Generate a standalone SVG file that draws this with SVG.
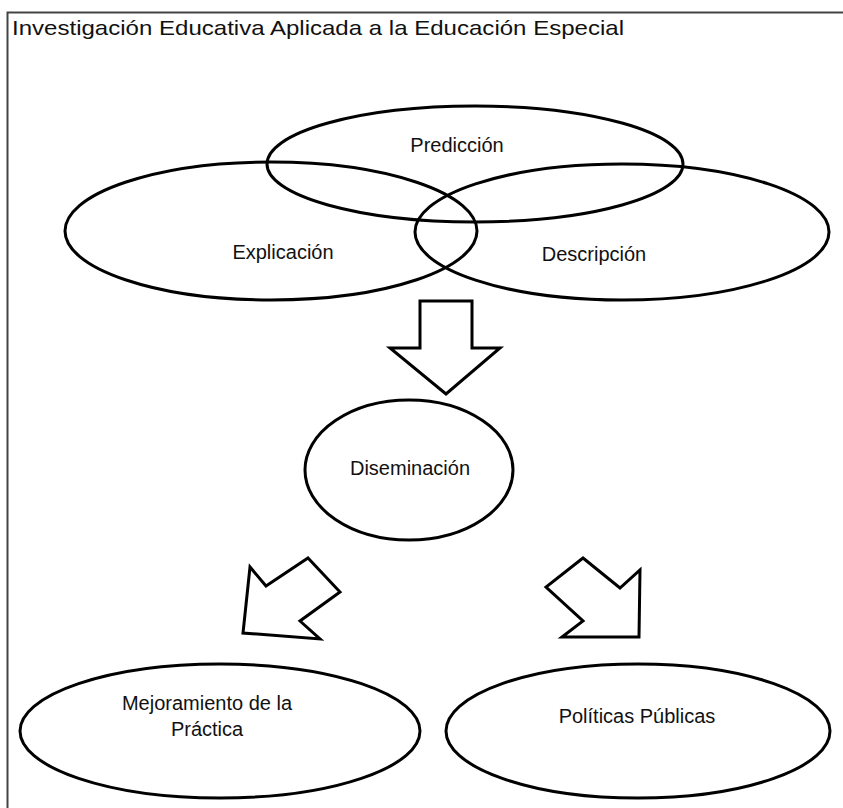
<svg xmlns="http://www.w3.org/2000/svg" width="843" height="808" viewBox="0 0 843 808">
<style>
.shape{fill:none;stroke:#000;stroke-width:3}
.arrow{fill:#fff;stroke:#000;stroke-width:3;stroke-linejoin:miter}
.lbl{font-family:"Liberation Sans",Arial,sans-serif;font-size:20px;fill:#111;text-anchor:middle}
.title{font-family:"Liberation Sans",Arial,sans-serif;font-size:21px;fill:#111}
</style>
<rect x="0" y="0" width="843" height="808" fill="#fff"/>
<g id="frame">
<path d="M7.5 830 V12.5 H860" fill="none" stroke="#444" stroke-width="2"/>
<text class="title" x="12" y="35" textLength="612" lengthAdjust="spacingAndGlyphs">Investigación Educativa Aplicada a la Educación Especial</text>
</g>
<g id="prediccion">
<ellipse class="shape" cx="475" cy="164" rx="208" ry="58"/>
<text class="lbl" x="457" y="152">Predicción</text>
</g>
<g id="explicacion">
<ellipse class="shape" cx="271" cy="231" rx="206" ry="69"/>
<text class="lbl" x="283" y="259">Explicación</text>
</g>
<g id="descripcion">
<ellipse class="shape" cx="622" cy="232" rx="207" ry="68"/>
<text class="lbl" x="594" y="261">Descripción</text>
</g>
<g id="diseminacion">
<ellipse class="shape" cx="409" cy="470" rx="104" ry="70"/>
<text class="lbl" x="410" y="475">Diseminación</text>
</g>
<g id="mejoramiento">
<ellipse class="shape" cx="220" cy="731" rx="200" ry="67"/>
<text class="lbl" x="207" y="710">Mejoramiento de la</text>
<text class="lbl" x="207" y="736">Práctica</text>
</g>
<g id="politicas">
<ellipse class="shape" cx="638" cy="731" rx="192" ry="67"/>
<text class="lbl" x="637" y="723">Políticas Públicas</text>
</g>
<g id="connectors">
<polygon class="arrow" points="420,301 472,301 472,348 500,348 446,394 390,348 420,348"/>
<polygon class="arrow" points="308,558 340,592 300,621 320,639 243,633 250,567 266,586"/>
<polygon class="arrow" points="583,558 546,587 583,621 562,637 639,637 640,570 620,588"/>
</g>
</svg>
